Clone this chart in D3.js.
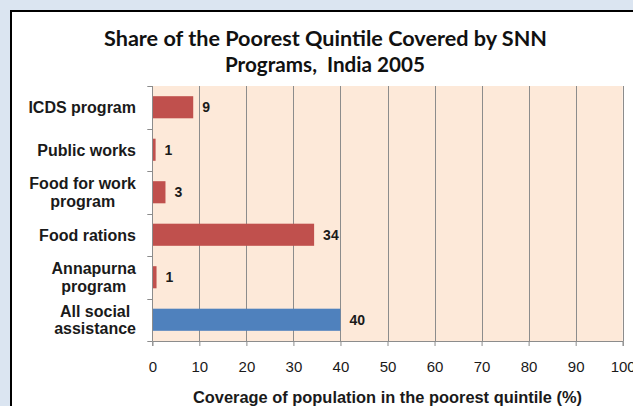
<!DOCTYPE html>
<html>
<head>
<meta charset="utf-8">
<script src="https://cdn.jsdelivr.net/npm/d3@7"></script>
<style>
  html, body { margin: 0; padding: 0; background: #dbe5f1; }
  svg { display: block; }
  .pre { white-space: pre; }
</style>
</head>
<body>
<svg id="chart" width="633" height="406"></svg>
<script>
const categories = [
  ["ICDS program"],
  ["Public works"],
  ["Food for work", "program"],
  ["Food rations"],
  ["Annapurna", "program"],
  ["All social", "assistance"]
];
const values = [8.7, 0.7, 2.8, 34.4, 0.9, 40];
const barColors = ["#c0504d", "#c0504d", "#c0504d", "#c0504d", "#c0504d", "#4f81bd"];
const xTicks = [0, 10, 20, 30, 40, 50, 60, 70, 80, 90, 100];
const titleLines = ["Share of the Poorest Quintile Covered by SNN", "Programs,  India 2005"];
const xAxisTitle = "Coverage of population in the poorest quintile (%)";

const svg = d3.select("#chart");
const W = 633, H = 406;

svg.append("rect").attr("x", 0).attr("y", 0).attr("width", W).attr("height", H).attr("fill", "#dbe5f1");
svg.append("rect").attr("x", 11).attr("y", 11).attr("width", 800).attr("height", 600)
  .attr("fill", "#ffffff").attr("stroke", "#000").attr("stroke-width", 2);

const plot = { left: 152.3, right: 622.7, top: 86, bottom: 341 };

const x = d3.scaleLinear().domain([0, 100]).range([plot.left, plot.right]);
const y = d3.scaleBand().domain(d3.range(categories.length))
  .range([plot.top, plot.bottom]).paddingInner(0.48).paddingOuter(0.24);

// plot background
svg.append("rect").attr("x", plot.left).attr("y", plot.top)
  .attr("width", plot.right - plot.left).attr("height", plot.bottom - plot.top)
  .attr("fill", "#fde9d9");

// gridlines
svg.append("g").selectAll("line").data(xTicks.slice(1)).join("line")
  .attr("x1", d => Math.round(x(d)) + 0.5).attr("x2", d => Math.round(x(d)) + 0.5)
  .attr("y1", plot.top).attr("y2", plot.bottom)
  .attr("stroke", "#8c8c8c").attr("stroke-width", 1);

// bars
svg.append("g").selectAll("rect").data(values).join("rect")
  .attr("x", x(0))
  .attr("y", (d, i) => y(i))
  .attr("width", d => x(d) - x(0))
  .attr("height", y.bandwidth())
  .attr("fill", (d, i) => barColors[i]);

// value labels
const fmt = d3.format(".0f");
svg.append("g").selectAll("text").data(values).join("text")
  .attr("x", d => x(d) + 9)
  .attr("y", (d, i) => y(i) + y.bandwidth() / 2)
  .attr("dy", "0.36em")
  .attr("font-family", "Liberation Sans, Arial, sans-serif")
  .attr("font-weight", "bold").attr("font-size", 14).attr("fill", "#1a1a1a")
  .text(d => fmt(d));

// x axis
const xAxis = d3.axisBottom(x).tickValues(xTicks).tickSize(5).tickPadding(15.5).tickFormat(d3.format("d"));
const gx = svg.append("g").attr("transform", `translate(0,${plot.bottom})`).call(xAxis);
gx.select(".domain").attr("stroke", "#8c8c8c");
gx.selectAll(".tick line").attr("stroke", "#8c8c8c");
gx.selectAll(".tick text").attr("font-family", "Liberation Sans, Arial, sans-serif")
  .attr("font-size", 15).attr("fill", "#1a1a1a");

// y axis (ticks at band boundaries)
const step = y.step();
const boundaries = d3.range(categories.length + 1).map(i => plot.top + i * step);
svg.append("line").attr("x1", Math.round(plot.left) + 0.5).attr("x2", Math.round(plot.left) + 0.5)
  .attr("y1", plot.top).attr("y2", plot.bottom).attr("stroke", "#8c8c8c");
svg.append("g").selectAll("line").data(boundaries).join("line")
  .attr("x1", plot.left - 5).attr("x2", plot.left)
  .attr("y1", d => Math.round(d) + 0.5).attr("y2", d => Math.round(d) + 0.5)
  .attr("stroke", "#8c8c8c");

// category labels
const labelG = svg.append("g");
categories.forEach((lines, i) => {
  const cy = y(i) + y.bandwidth() / 2;
  const t = labelG.append("text")
    .attr("font-family", "Liberation Sans, Arial, sans-serif")
    .attr("font-weight", "bold").attr("font-size", 16).attr("fill", "#1a1a1a")
    .attr("text-anchor", "middle");
  const lh = 17.5;
  const spans = lines.map((s, k) => t.append("tspan").attr("x", 0)
    .attr("y", cy + (k - (lines.length - 1) / 2) * lh).attr("dy", "0.36em").text(s));
  const wMax = d3.max(spans, s => s.node().getComputedTextLength());
  spans.forEach(s => s.attr("x", 136 - wMax / 2));
});

// title
const tg = svg.append("g").attr("font-family", "Lato, Carlito, Calibri, sans-serif")
  .attr("font-weight", "bold").attr("fill", "#111");
tg.append("text").attr("x", 325.5).attr("y", 45.5).attr("text-anchor", "middle")
  .attr("font-size", 20).attr("textLength", 443).attr("lengthAdjust", "spacingAndGlyphs")
  .text(titleLines[0]);
tg.append("text").attr("class", "pre").attr("xml:space", "preserve")
  .attr("x", 325).attr("y", 72).attr("text-anchor", "middle")
  .attr("font-size", 20).attr("textLength", 200).attr("lengthAdjust", "spacingAndGlyphs")
  .text(titleLines[1]);

// axis title
svg.append("text").attr("x", (plot.left + plot.right) / 2).attr("y", 403.3)
  .attr("text-anchor", "middle")
  .attr("font-family", "Liberation Sans, Arial, sans-serif")
  .attr("font-weight", "bold").attr("font-size", 16).attr("fill", "#1a1a1a")
  .attr("textLength", 389).attr("lengthAdjust", "spacingAndGlyphs")
  .text(xAxisTitle);
</script>
</body>
</html>
